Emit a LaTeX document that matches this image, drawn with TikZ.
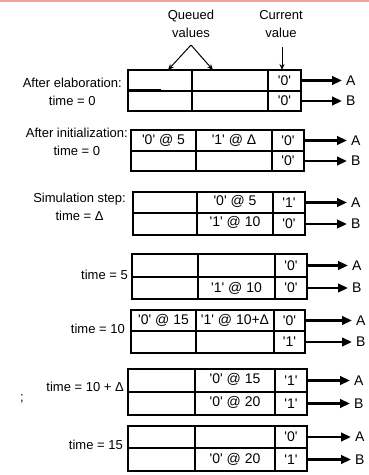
\documentclass[tikz,border=0pt]{standalone}
\usepackage{fontspec}
\setmainfont{Liberation Sans}
\usetikzlibrary{arrows.meta,calc}
\definecolor{pinkline}{RGB}{244,160,156}
\newcommand\sqv[1]{\textquotesingle#1\textquotesingle}
\tikzset{
  boxline/.style={line width=2.6pt, line join=miter},
  sigarrow/.style={line width=2.6pt, -{Triangle[length=10pt,width=8.5pt]}},
  hdrarrow/.style={line width=1pt, -{Stealth[length=6pt,width=5pt]}},
  lbl/.style={font=\fontsize{13}{18.5}\selectfont, align=center, inner sep=0pt},
  celltxt/.style={font=\fontsize{14}{15}\selectfont, inner sep=0pt},
  signame/.style={font=\fontsize{14}{16}\selectfont, anchor=west, inner xsep=4pt, inner ysep=0pt},
}
% name, x0, d1, d2, x3, top, mid, bottom, arrow tip x
\newcommand\sigbox[9]{%
  \draw[boxline] (#2,#6) rectangle (#5,#8);
  \draw[boxline] (#2,#7) -- (#5,#7) (#3,#6) -- (#3,#8) (#4,#6) -- (#4,#8);
  \coordinate (#1-11) at ({(#2+#3)/2},{(#6+#7)/2});
  \coordinate (#1-12) at ({(#3+#4)/2},{(#6+#7)/2});
  \coordinate (#1-13) at ({(#4+#5)/2},{(#6+#7)/2});
  \coordinate (#1-21) at ({(#2+#3)/2},{(#7+#8)/2});
  \coordinate (#1-22) at ({(#3+#4)/2},{(#7+#8)/2});
  \coordinate (#1-23) at ({(#4+#5)/2},{(#7+#8)/2});
  \coordinate (#1-ea) at (#5,{(#6+#7)/2});
  \coordinate (#1-eb) at (#5,{(#7+#8)/2});
  \node[signame] (#1-A) at (#9,{(#6+#7)/2}) {A};
  \node[signame] (#1-B) at (#9,{(#7+#8)/2}) {B};
  \draw[sigarrow] (#1-ea) -- (#1-A.west);
  \draw[sigarrow] (#1-eb) -- (#1-B.west);
}
\begin{document}
\begin{tikzpicture}[x=1pt,y=-1pt]
\useasboundingbox (0,0) rectangle (369,475);
\fill[white] (0,0) rectangle (369,475);
\draw[pinkline, line width=2.5pt] (0,0.8) -- (369,0.8);

% header
\node[lbl] (qv) at (191,24) {Queued\\values};
\node[lbl] (cv) at (281,24) {Current\\value};
\coordinate (qa) at (191,45);
\coordinate (qt1) at (168,70);
\coordinate (qt2) at (213,70);
\coordinate (ca) at (282,47);
\coordinate (ct) at (282,70);
\draw[hdrarrow] (qa) -- (qt1);
\draw[hdrarrow] (qa) -- (qt2);
\draw[hdrarrow] (ca) -- (ct);

% block 1
\sigbox{b1}{128}{192}{268}{301}{70}{91}{111}{342}
\draw[line width=2.2pt] (128,90) -- (161,90);
\node[celltxt] (b1t13) at (b1-13) {\sqv{0}};
\node[celltxt] (b1t23) at (b1-23) {\sqv{0}};
\node[lbl, anchor=east] (L1) at (122,92) {After elaboration:\\time = 0};

% block 2
\sigbox{b2}{131}{196}{272}{304}{130}{151}{171}{347}
\node[celltxt] (b2t11) at (b2-11) {\sqv{0} @ 5};
\node[celltxt] (b2t12) at (b2-12) {\sqv{1} @ Δ};
\node[celltxt] (b2t13) at (b2-13) {\sqv{0}};
\node[celltxt] (b2t23) at (b2-23) {\sqv{0}};
\node[lbl, anchor=east] (L2) at (128,142) {After initialization:\\time = 0};

% block 3
\sigbox{b3}{133}{197}{273}{305}{192}{213}{235}{347}
\node[celltxt] (b3t12) at ($(b3-12)+(0,-1.5)$) {\sqv{0} @ 5};
\node[celltxt] (b3t13) at (b3-13) {\sqv{1}};
\node[celltxt] (b3t22) at ($(b3-22)+(0,-1.5)$) {\sqv{1} @ 10};
\node[celltxt] (b3t23) at (b3-23) {\sqv{0}};
\node[lbl, anchor=east] (L3) at (126,207) {Simulation step:\\time = Δ};

% block 4
\sigbox{b4}{132}{198}{275}{307}{254}{277}{299}{348}
\node[celltxt] (b4t13) at (b4-13) {\sqv{0}};
\node[celltxt] (b4t22) at (b4-22) {\sqv{1} @ 10};
\node[celltxt] (b4t23) at (b4-23) {\sqv{0}};
\node[lbl, anchor=east] (L4) at (128,275) {time = 5};

% block 5
\sigbox{b5}{131}{196}{274}{305}{310}{331}{353}{352}
\node[celltxt] (b5t11) at (b5-11) {\sqv{0} @ 15};
\node[celltxt] (b5t12) at (b5-12) {\sqv{1} @ 10+Δ};
\node[celltxt] (b5t13) at (b5-13) {\sqv{0}};
\node[celltxt] (b5t23) at (b5-23) {\sqv{1}};
\node[lbl, anchor=east] (L5) at (125,329) {time = 10};

% block 6
\sigbox{b6}{128}{195}{275}{307}{369}{392}{415}{350}
\node[celltxt] (b6t12) at ($(b6-12)+(0,-1.5)$) {\sqv{0} @ 15};
\node[celltxt] (b6t13) at (b6-13) {\sqv{1}};
\node[celltxt] (b6t22) at ($(b6-22)+(0,-1.5)$) {\sqv{0} @ 20};
\node[celltxt] (b6t23) at (b6-23) {\sqv{1}};
\node[lbl, anchor=east] (L6) at (124,387) {time = 10 + Δ};

% block 7
\sigbox{b7}{128}{195}{275}{307}{426}{448}{471}{351}
\node[celltxt] (b7t13) at (b7-13) {\sqv{0}};
\node[celltxt] (b7t22) at (b7-22) {\sqv{0} @ 20};
\node[celltxt] (b7t23) at (b7-23) {\sqv{1}};
\node[lbl, anchor=east] (L7) at (123,445) {time = 15};

% stray mark
\node[lbl] (semi) at (22,399) {;};
\end{tikzpicture}
\end{document}
